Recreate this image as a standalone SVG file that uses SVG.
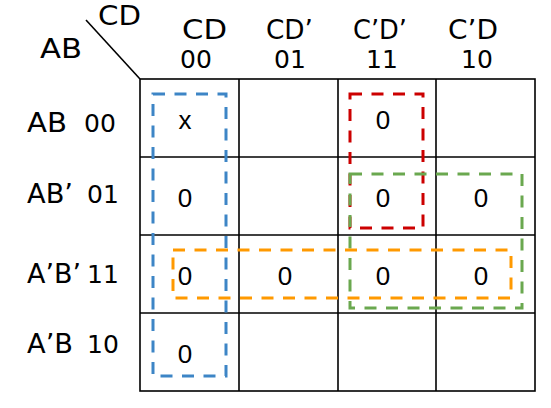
<svg xmlns="http://www.w3.org/2000/svg" width="551" height="408" viewBox="0 0 551 408">
<style>
.lbl{font-family:"DejaVu Sans","Liberation Sans",sans-serif;font-size:26px;fill:#000;font-weight:normal}
.num{font-family:"DejaVu Sans","Liberation Sans",sans-serif;font-size:25px;fill:#000;text-anchor:middle}
.val{font-family:"Liberation Sans",Arial,sans-serif;font-size:26px;fill:#000;text-anchor:middle}
.grid{stroke:#000;stroke-width:1.6;fill:none}
.grp{fill:none;stroke-width:3;stroke-dasharray:12 9.5}
</style>
<rect width="551" height="408" fill="#fff"/>
<g id="headers">
<text class="lbl" x="98" y="25" textLength="43" lengthAdjust="spacingAndGlyphs">CD</text>
<text class="lbl" x="40" y="58" textLength="42" lengthAdjust="spacingAndGlyphs">AB</text>
<text class="lbl" x="182" y="39" textLength="45" lengthAdjust="spacingAndGlyphs">CD</text>
<text class="num" x="196" y="68">00</text>
<text class="lbl" x="266" y="39" textLength="47" lengthAdjust="spacingAndGlyphs">CD’</text>
<text class="num" x="290" y="68">01</text>
<text class="lbl" x="353" y="39" textLength="54" lengthAdjust="spacingAndGlyphs">C’D’</text>
<text class="num" x="382" y="68">11</text>
<text class="lbl" x="448" y="39" textLength="50" lengthAdjust="spacingAndGlyphs">C’D</text>
<text class="num" x="477" y="68">10</text>
<text class="lbl" x="27" y="132" textLength="40" lengthAdjust="spacingAndGlyphs">AB</text>
<text class="num" x="100" y="132">00</text>
<text class="lbl" x="27" y="203" textLength="46" lengthAdjust="spacingAndGlyphs">AB’</text>
<text class="num" x="103" y="203">01</text>
<text class="lbl" x="27" y="283" textLength="54" lengthAdjust="spacingAndGlyphs">A’B’</text>
<text class="num" x="103" y="283">11</text>
<text class="lbl" x="27" y="353" textLength="46" lengthAdjust="spacingAndGlyphs">A’B</text>
<text class="num" x="103" y="353">10</text>
</g>
<g id="grid">
<line class="grid" x1="86" y1="20" x2="140" y2="79"/>
<rect class="grid" x="140" y="79" width="395" height="312"/>
<line class="grid" x1="239" y1="79" x2="239" y2="391"/>
<line class="grid" x1="338" y1="79" x2="338" y2="391"/>
<line class="grid" x1="436" y1="79" x2="436" y2="391"/>
<line class="grid" x1="140" y1="157" x2="535" y2="157"/>
<line class="grid" x1="140" y1="235" x2="535" y2="235"/>
<line class="grid" x1="140" y1="313" x2="535" y2="313"/>
</g>
<g id="cells">
<text class="val" x="185" y="129">x</text>
<text class="val" x="383" y="129">0</text>
<text class="val" x="185" y="207">0</text>
<text class="val" x="383" y="207">0</text>
<text class="val" x="481" y="207">0</text>
<text class="val" x="185" y="285">0</text>
<text class="val" x="285" y="285">0</text>
<text class="val" x="383" y="285">0</text>
<text class="val" x="481" y="285">0</text>
<text class="val" x="185" y="363">0</text>
</g>
<g id="groups">
<rect id="blue" class="grp" stroke="#3d85c6" x="153" y="94" width="73" height="282"/>
<rect id="red" class="grp" stroke="#cc0000" x="350" y="94" width="73" height="134"/>
<rect id="green" class="grp" stroke="#6aa84f" x="350" y="174" width="172" height="134"/>
<rect id="orange" class="grp" stroke="#ff9900" x="173" y="250" width="338" height="48"/>
</g>
</svg>
